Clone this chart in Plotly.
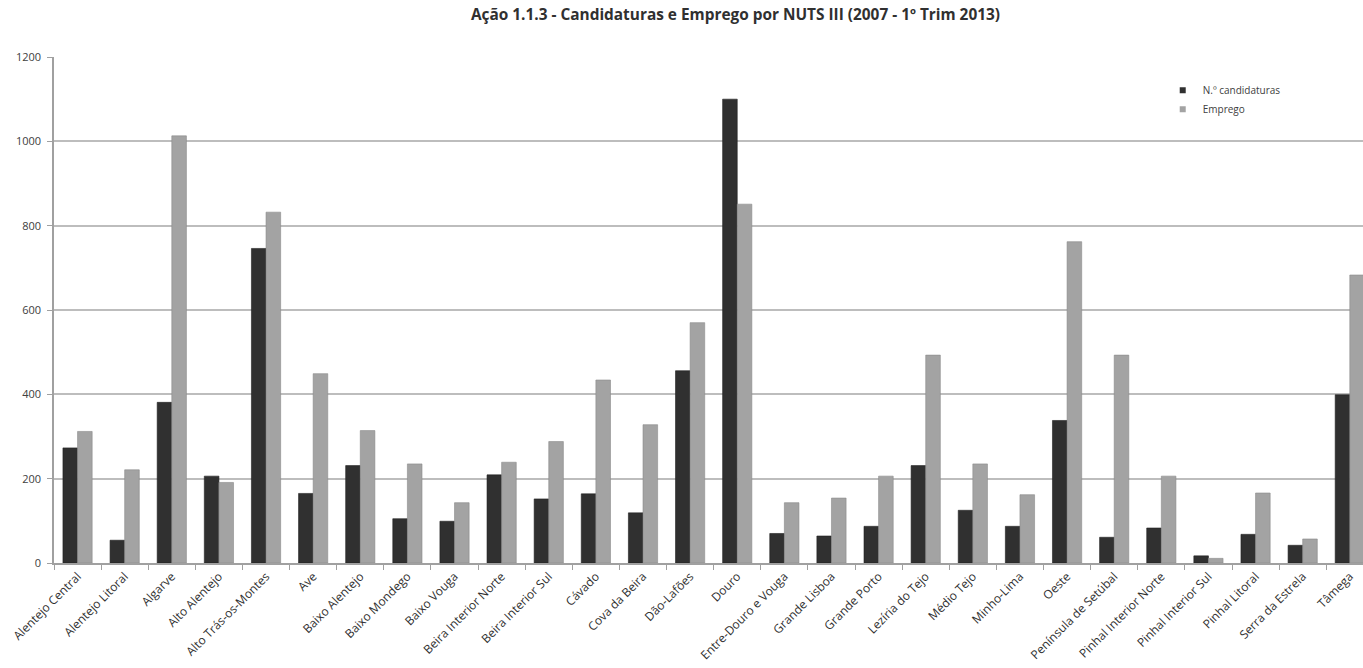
import plotly.graph_objects as go

categories = ["Alentejo Central", "Alentejo Litoral", "Algarve", "Alto Alentejo", "Alto Trás-os-Montes",
              "Ave", "Baixo Alentejo", "Baixo Mondego", "Baixo Vouga", "Beira Interior Norte",
              "Beira Interior Sul", "Cávado", "Cova da Beira", "Dão-Lafões", "Douro",
              "Entre-Douro e Vouga", "Grande Lisboa", "Grande Porto", "Lezíria do Tejo", "Médio Tejo",
              "Minho-Lima", "Oeste", "Península de Setúbal", "Pinhal Interior Norte", "Pinhal Interior Sul",
              "Pinhal Litoral", "Serra da Estrela", "Tâmega"]

candidaturas = [273, 54, 381, 206, 746, 165, 231, 105, 99, 209,
                152, 164, 119, 456, 1100, 70, 64, 87, 231, 125,
                87, 338, 61, 83, 17, 68, 42, 399]

emprego = [312, 221, 1013, 191, 832, 449, 314, 235, 143, 239,
           288, 434, 328, 570, 851, 143, 154, 206, 493, 235,
           162, 762, 493, 206, 11, 166, 57, 683]

y_ticks = [0, 200, 400, 600, 800, 1000, 1200]

series_names = ["N.º candidaturas", "Emprego"]
series_colors = ["#303030", "#a3a3a3"]
series_lines = ["#202020", "#8a8a8a"]

font_family = "Open Sans, Liberation Sans, sans-serif"

fig = go.Figure()
for name, vals, col, lcol in zip(series_names, [candidaturas, emprego], series_colors, series_lines):
    fig.add_trace(go.Bar(name=name, x=categories, y=vals, showlegend=False, legendgroup=name,
                         marker=dict(color=col, line=dict(color=lcol, width=0.6))))
# legend entries with small square swatches
for name, col in zip(series_names, series_colors):
    fig.add_trace(go.Scatter(name=name, x=[None], y=[None], mode="markers", legendgroup=name,
                             marker=dict(symbol="square", size=6, color=col)))

fig.update_layout(
    width=1363, height=668,
    margin=dict(l=54, r=0, t=56.5, b=104.5),
    paper_bgcolor="white", plot_bgcolor="white",
    barmode="group", bargap=0.38, bargroupgap=0.0,
    font=dict(family=font_family, color="#404040", size=9),
    title=dict(text="<b>Ação 1.1.3 - Candidaturas e Emprego por NUTS III (2007 - 1º Trim 2013)</b>",
               x=735.5 / 1363, xanchor="center", xref="container",
               y=1 - 15 / 668, yanchor="middle", yref="container",
               font=dict(size=15.4, color="#303030", family=font_family)),
    legend=dict(x=0.847, y=0.963, xanchor="left", yanchor="top",
                font=dict(size=10, color="#404040"), bgcolor="rgba(0,0,0,0)",
                itemwidth=30, tracegroupgap=0),
    showlegend=True,
)

fig.update_xaxes(
    type="category", range=[-0.5, 27.28],
    showline=True, linecolor="#a0a0a0", linewidth=1.5,
    ticks="outside", tickson="boundaries", ticklen=5, tickcolor="#a0a0a0",
    tickangle=-45, tickfont=dict(size=12, color="#303030"),
    showgrid=False,
)
fig.update_yaxes(
    range=[0, 1200], tickvals=y_ticks,
    showline=True, linecolor="#a0a0a0", linewidth=1.5,
    ticks="outside", ticklen=5, tickcolor="#a0a0a0",
    showgrid=True, gridcolor="#bdbdbd", gridwidth=1.6,
    tickfont=dict(size=11, color="#404040"),
    ticklabelstandoff=4,
    zeroline=False,
)

fig.write_html("out.html", config={"displayModeBar": False},
               post_script="document.body.style.margin='0';document.body.style.overflow='hidden';")
